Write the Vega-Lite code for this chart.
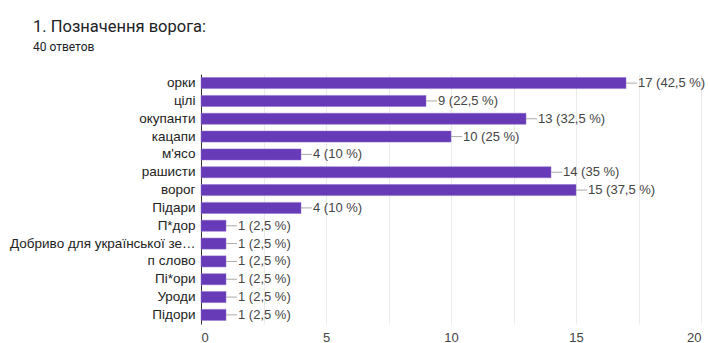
{
  "$schema": "https://vega.github.io/schema/vega-lite/v6.json",
  "autosize": "none",
  "width": 500,
  "height": 250,
  "padding": {"left": 201, "top": 74, "right": 7, "bottom": 19},
  "background": "white",
  "title": {
    "text": "1. Позначення ворога:",
    "subtitle": "40 ответов",
    "anchor": "start",
    "frame": "group",
    "dx": -168,
    "dy": -17,
    "font": "Roboto",
    "fontSize": 16.5,
    "fontWeight": "normal",
    "color": "#202124",
    "subtitleFont": "Roboto",
    "subtitleFontSize": 12,
    "subtitleColor": "#202124",
    "subtitlePadding": 7
  },
  "data": {
    "values": [
      {"name": "орки", "count": 17, "label": "17 (42,5 %)"},
      {"name": "цілі", "count": 9, "label": "9 (22,5 %)"},
      {"name": "окупанти", "count": 13, "label": "13 (32,5 %)"},
      {"name": "кацапи", "count": 10, "label": "10 (25 %)"},
      {"name": "м'ясо", "count": 4, "label": "4 (10 %)"},
      {"name": "рашисти", "count": 14, "label": "14 (35 %)"},
      {"name": "ворог", "count": 15, "label": "15 (37,5 %)"},
      {"name": "Підари", "count": 4, "label": "4 (10 %)"},
      {"name": "П*дор", "count": 1, "label": "1 (2,5 %)"},
      {"name": "Добриво для української зе…", "count": 1, "label": "1 (2,5 %)"},
      {"name": "п слово", "count": 1, "label": "1 (2,5 %)"},
      {"name": "Пі*ори", "count": 1, "label": "1 (2,5 %)"},
      {"name": "Уроди", "count": 1, "label": "1 (2,5 %)"},
      {"name": "Підори", "count": 1, "label": "1 (2,5 %)"}
    ]
  },
  "encoding": {
    "y": {
      "field": "name",
      "type": "nominal",
      "sort": null,
      "scale": {"paddingInner": 0.38, "paddingOuter": 0.2},
      "axis": {
        "title": null,
        "ticks": false,
        "labelPadding": 6,
        "labelFont": "Liberation Sans",
        "labelFontSize": 13.5,
        "labelColor": "#222222",
        "labelLimit": 250,
        "domainColor": "#333333",
        "domainWidth": 1,
        "grid": false
      }
    }
  },
  "layer": [
    {
      "mark": {"type": "bar", "color": "#673ab7", "stroke": "#8a6cc9", "strokeWidth": 0.5},
      "encoding": {
        "x": {
          "field": "count",
          "type": "quantitative",
          "scale": {"domain": [0, 20], "nice": false},
          "axis": {
            "title": null,
            "values": [0, 2.5, 5, 7.5, 10, 12.5, 15, 17.5, 20],
            "labelExpr": "datum.value % 5 === 0 ? datum.label : ''",
            "ticks": false,
            "domain": false,
            "grid": true,
            "gridColor": "#ebebeb",
            "labelFont": "Liberation Sans",
            "labelFontSize": 13,
            "labelColor": "#444444",
            "labelPadding": 7
          }
        }
      }
    },
    {
      "mark": {"type": "rule", "color": "#aaaaaa", "strokeWidth": 1, "x2Offset": 11},
      "encoding": {
        "x": {"field": "count", "type": "quantitative"},
        "x2": {"field": "count"}
      }
    },
    {
      "mark": {"type": "text", "align": "left", "baseline": "middle", "dx": 12, "font": "Liberation Sans", "fontSize": 13, "color": "#444444"},
      "encoding": {
        "x": {"field": "count", "type": "quantitative"},
        "text": {"field": "label"}
      }
    }
  ],
  "config": {"view": {"stroke": null}}
}
